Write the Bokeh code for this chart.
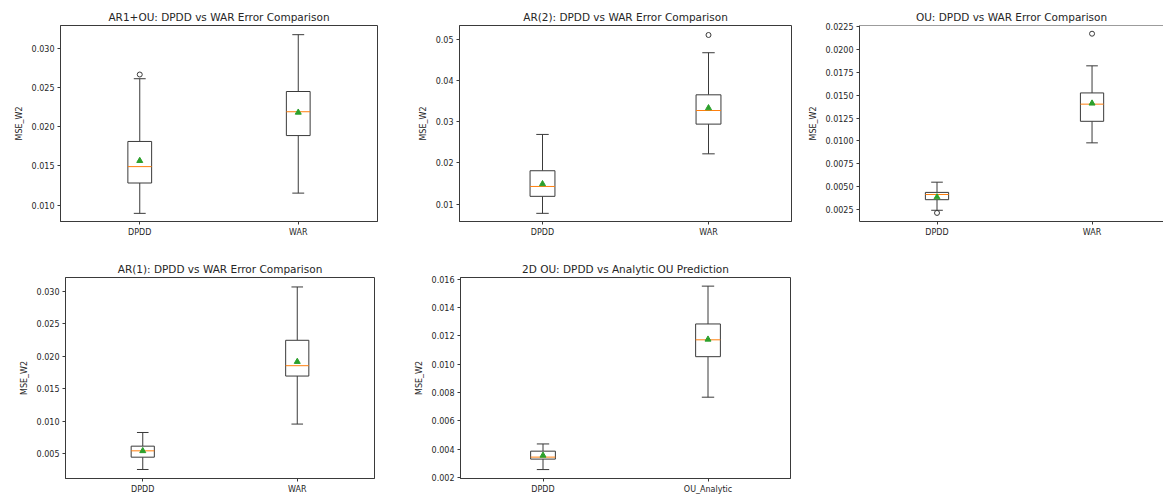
from bokeh.plotting import figure
from bokeh.layouts import column, row
from bokeh.models import Range1d, FixedTicker, Span, NumeralTickFormatter
from bokeh.embed import file_html
from bokeh.resources import INLINE

# ---------------- data ----------------
titles = [
    "AR1+OU: DPDD vs WAR Error Comparison",
    "AR(2): DPDD vs WAR Error Comparison",
    "OU: DPDD vs WAR Error Comparison",
    "AR(1): DPDD vs WAR Error Comparison",
    "2D OU: DPDD vs Analytic OU Prediction",
]
categories = [
    ["DPDD", "WAR"],
    ["DPDD", "WAR"],
    ["DPDD", "WAR"],
    ["DPDD", "WAR"],
    ["DPDD", "OU_Analytic"],
]
whisker_lo = [[0.00896, 0.01154], [0.00778, 0.0222], [0.00239, 0.00978], [0.00253, 0.00954], [0.00256, 0.00767]]
q1         = [[0.01283, 0.01888], [0.0119, 0.0294], [0.00355, 0.01214], [0.00443, 0.01695], [0.0033, 0.01053]]
median     = [[0.01492, 0.02192], [0.01429, 0.0327], [0.00412, 0.01402], [0.00541, 0.01855], [0.00344, 0.01172]]
q3         = [[0.01813, 0.0245], [0.0181, 0.0365], [0.00435, 0.01525], [0.00613, 0.02247], [0.00386, 0.01284]]
whisker_hi = [[0.02613, 0.03175], [0.0269, 0.0467], [0.00547, 0.01822], [0.00824, 0.0307], [0.00437, 0.01551]]
means      = [[0.01567, 0.02183], [0.0149, 0.0333], [0.00383, 0.01411], [0.0054, 0.01917], [0.00356, 0.01175]]
outlier_box = [[0], [1], [0, 1], [], []]
outlier_val = [[0.02667], [0.0510], [0.0021, 0.02174], [], []]
y_limits = [(0.00792, 0.03292), (0.0058, 0.0533), (0.00116, 0.02264), (0.00114, 0.03216), (0.00193, 0.01612)]
y_ticks = [
    [0.010, 0.015, 0.020, 0.025, 0.030],
    [0.01, 0.02, 0.03, 0.04, 0.05],
    [0.0025, 0.0050, 0.0075, 0.0100, 0.0125, 0.0150, 0.0175, 0.0200, 0.0225],
    [0.005, 0.010, 0.015, 0.020, 0.025, 0.030],
    [0.002, 0.004, 0.006, 0.008, 0.010, 0.012, 0.014, 0.016],
]
y_formats = ["0.000", "0.00", "0.0000", "0.000", "0.000"]
y_label = "MSE_W2"

# ---------------- layout (width, height, border l, r, t, b, x_end) ----------------
specs = [
    (380, 248, 60, 3, 25, 23, 2.5),
    (413, 248, 79, 2, 23, 25, 2.5),
    (370, 248, 66, 0, 23, 27, 2.461),
    (385, 252, 65, 11, 29, 22, 2.5),
    (410, 252, 75, 5, 27, 22, 2.5),
]

LINE = "#3a3a3a"
TXT = "#262626"
FONT = "DejaVu Sans"
BOX_W = 0.15
CAP_W = 0.075


def make_panel(i):
    w, h, bl, br, bt, bb, xend = specs[i]
    p = figure(width=w, height=h, output_backend="svg", toolbar_location=None,
               x_range=Range1d(0.5, xend), y_range=Range1d(*y_limits[i]),
               min_border_left=bl, min_border_right=br, min_border_top=bt, min_border_bottom=bb,
               title=titles[i])
    p.title.align = "center"
    p.title.text_font = FONT
    p.title.text_font_size = "10.5px"
    p.title.text_font_style = "normal"
    p.title.text_color = TXT
    p.title.standoff = 5
    p.title.offset = 0
    p.grid.visible = False
    p.background_fill_color = "white"
    p.border_fill_color = "white"
    if i == 2:
        p.outline_line_color = None
        p.add_layout(Span(location=y_limits[i][1], dimension="width", line_color=LINE, line_width=1))
    else:
        p.outline_line_color = LINE
        p.outline_line_width = 1

    pos = [k + 1 for k in range(len(categories[i]))]

    # x axis
    xa = p.xaxis[0]
    xa.ticker = FixedTicker(ticks=pos)
    xa.major_label_overrides = {k + 1: c for k, c in enumerate(categories[i])}
    # y axis
    ya = p.yaxis[0]
    ya.ticker = FixedTicker(ticks=y_ticks[i])
    ya.formatter = NumeralTickFormatter(format=y_formats[i])
    ya.axis_label = y_label
    for ax in (xa, ya):
        ax.axis_line_color = LINE
        ax.major_tick_line_color = LINE
        ax.major_tick_out = 3
        ax.major_tick_in = 0
        ax.minor_tick_line_color = None
        ax.major_label_text_font = FONT
        ax.major_label_text_font_size = "8px"
        ax.major_label_text_color = TXT
        ax.major_label_standoff = 3
        ax.axis_label_text_font = FONT
        ax.axis_label_text_font_size = "8px"
        ax.axis_label_text_font_style = "normal"
        ax.axis_label_text_color = TXT
        ax.axis_label_standoff = 5

    # whiskers
    p.segment(x0=pos, x1=pos, y0=whisker_lo[i], y1=q1[i], line_color=LINE, line_width=1)
    p.segment(x0=pos, x1=pos, y0=q3[i], y1=whisker_hi[i], line_color=LINE, line_width=1)
    # caps
    p.segment(x0=[x - CAP_W / 2 for x in pos], x1=[x + CAP_W / 2 for x in pos],
              y0=whisker_lo[i], y1=whisker_lo[i], line_color=LINE, line_width=1)
    p.segment(x0=[x - CAP_W / 2 for x in pos], x1=[x + CAP_W / 2 for x in pos],
              y0=whisker_hi[i], y1=whisker_hi[i], line_color=LINE, line_width=1)
    # boxes
    p.vbar(x=pos, width=BOX_W, bottom=q1[i], top=q3[i], fill_color="white",
           line_color=LINE, line_width=1)
    # medians
    p.segment(x0=[x - BOX_W / 2 for x in pos], x1=[x + BOX_W / 2 for x in pos],
              y0=median[i], y1=median[i], line_color="#ff7f0e", line_width=1)
    # means
    p.scatter(x=pos, y=means[i], marker="triangle", size=6,
              fill_color="#2ca02c", line_color="#2ca02c")
    # outliers
    if outlier_val[i]:
        p.scatter(x=[pos[k] for k in outlier_box[i]], y=outlier_val[i], marker="circle",
                  size=5, fill_color=None, line_color=LINE, line_width=1)
    return p


panels = [make_panel(i) for i in range(5)]
layout = column(row(panels[0], panels[1], panels[2]), row(panels[3], panels[4]))

open("out.html", "w").write(file_html(layout, INLINE))
